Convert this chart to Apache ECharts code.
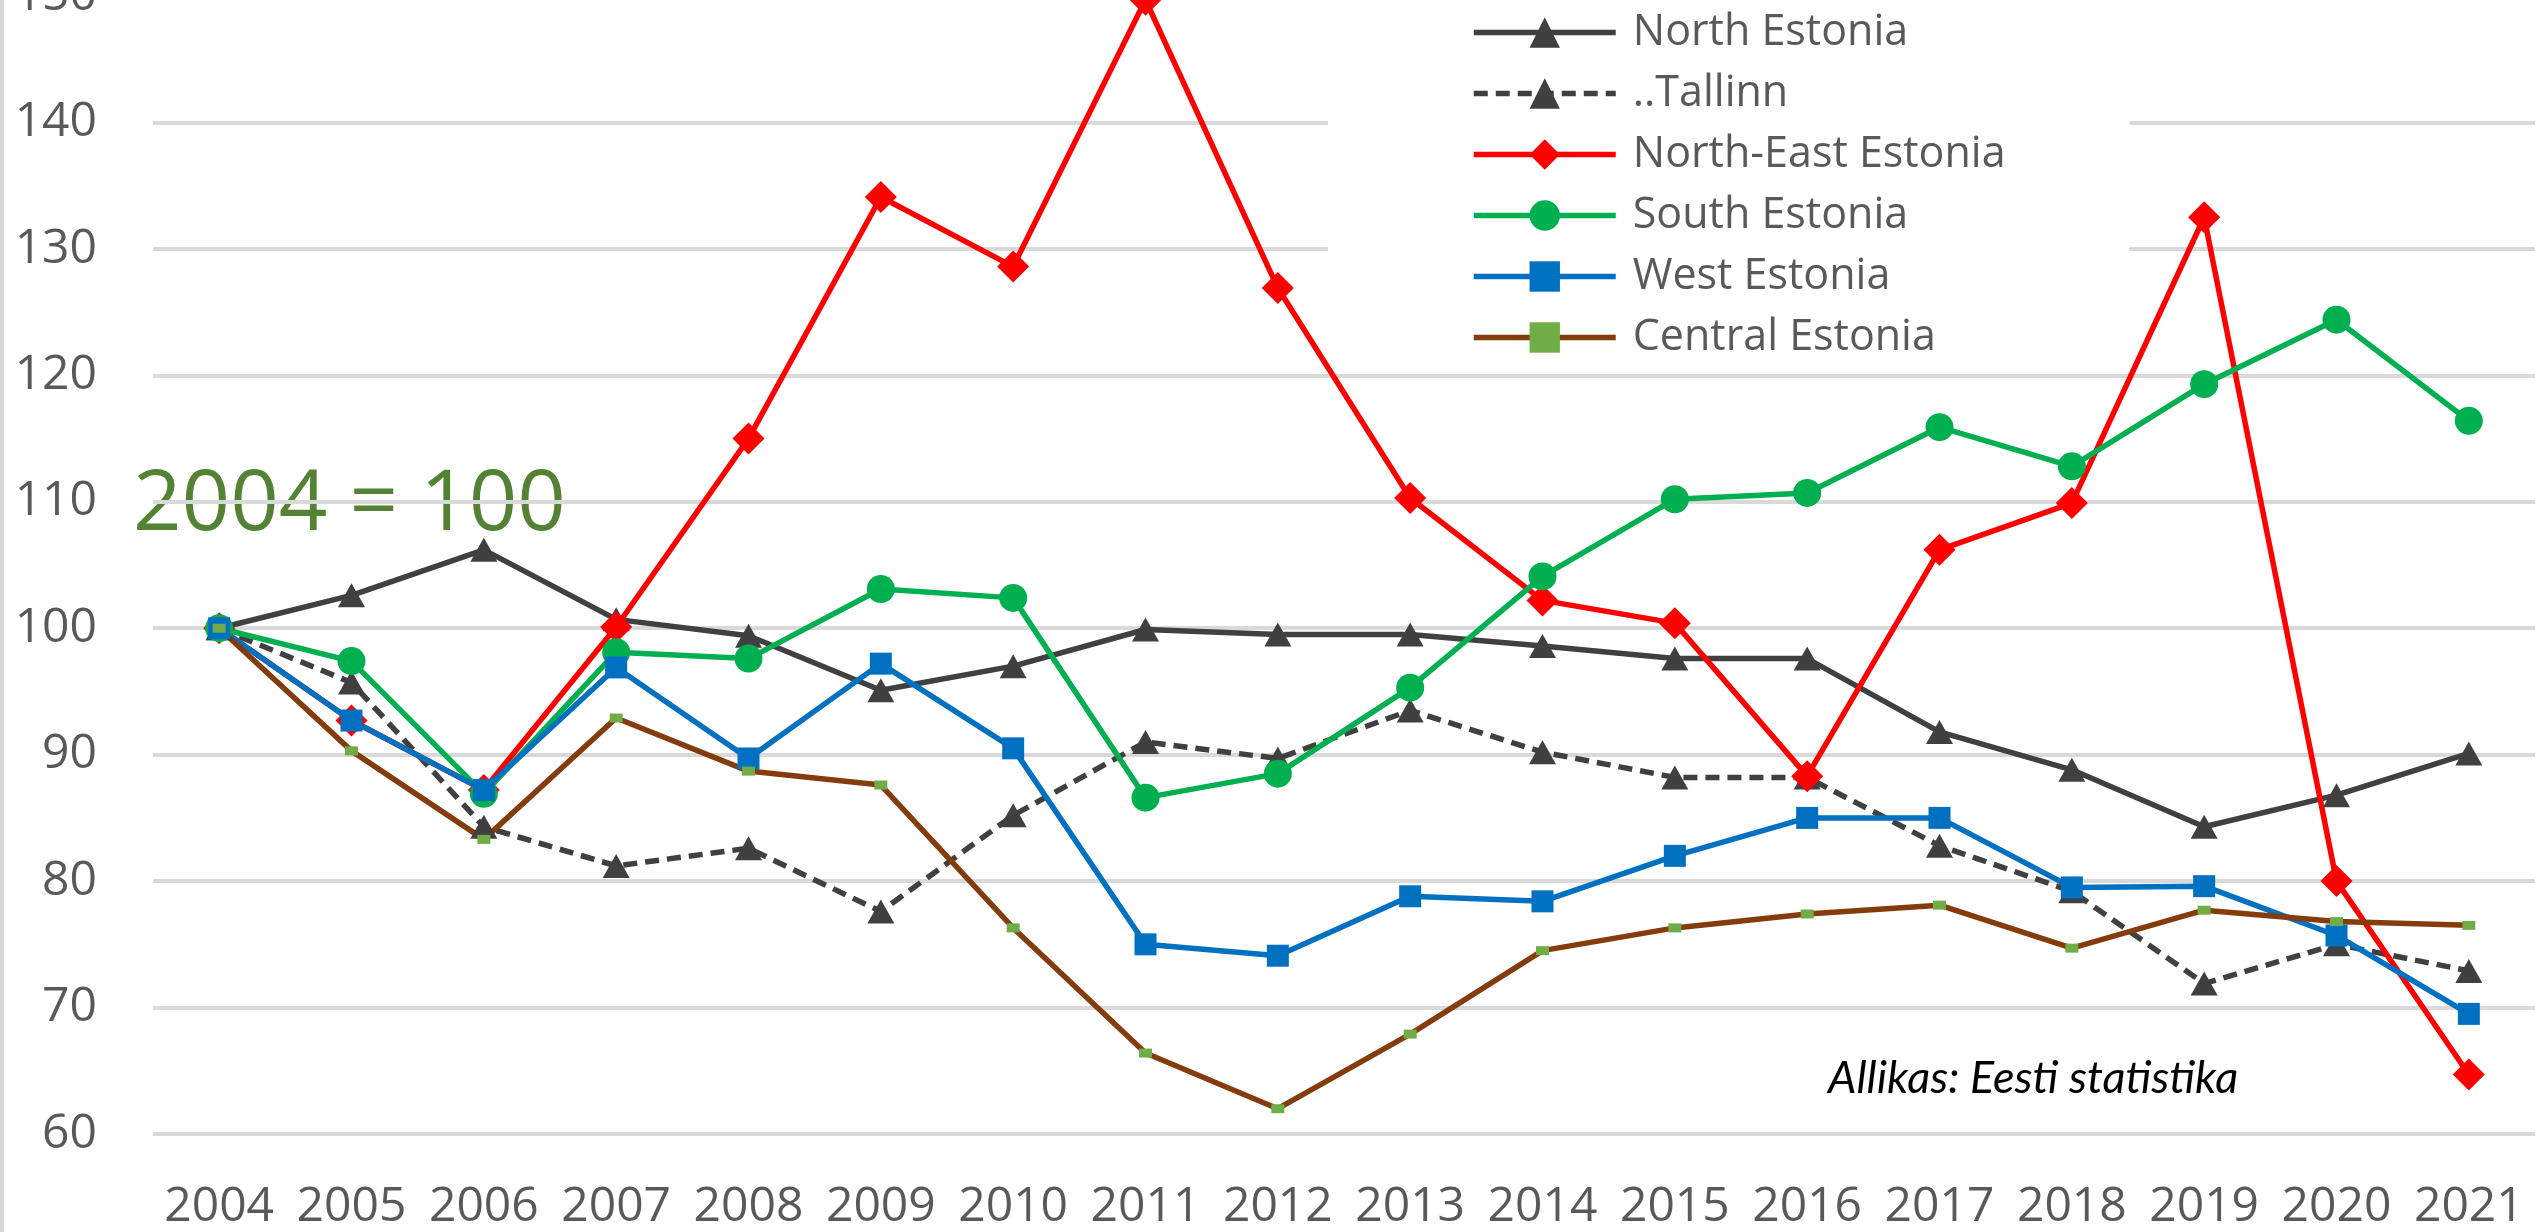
<!DOCTYPE html>
<html>
<head>
<meta charset="utf-8">
<script src="https://cdn.jsdelivr.net/npm/echarts@6/dist/echarts.min.js"></script>
<style>
  html, body { margin: 0; padding: 0; background: #fff; }
  #chart { width: 2539px; height: 1232px; }
</style>
</head>
<body>
<div id="chart"></div>
<script>
const years = ['2004', '2005', '2006', '2007', '2008', '2009', '2010', '2011', '2012',
  '2013', '2014', '2015', '2016', '2017', '2018', '2019', '2020', '2021'];

const northEstonia = [100, 102.6, 106.2, 100.7, 99.4, 95.1, 97.0, 99.9, 99.5,
  99.5, 98.6, 97.6, 97.6, 91.8, 88.8, 84.3, 86.8, 90.1];
const tallinn = [100, 95.7, 84.3, 81.2, 82.6, 77.6, 85.2, 91.0, 89.7,
  93.5, 90.2, 88.2, 88.2, 82.8, 79.2, 71.9, 75.0, 72.9];
const northEastEstonia = [100, 92.7, 87.2, 100.1, 115.0, 134.1, 128.6, 149.7, 126.9,
  110.3, 102.2, 100.4, 88.3, 106.2, 109.9, 132.5, 80.0, 64.7];
const southEstonia = [100, 97.4, 86.9, 98.1, 97.6, 103.1, 102.4, 86.6, 88.5,
  95.3, 104.1, 110.2, 110.7, 115.9, 112.8, 119.3, 124.4, 116.4];
const westEstonia = [100, 92.7, 87.2, 96.9, 89.7, 97.2, 90.5, 75.0, 74.1,
  78.8, 78.4, 82.0, 85.0, 85.0, 79.5, 79.6, 75.7, 69.5];
const centralEstonia = [100, 90.3, 83.3, 92.9, 88.7, 87.6, 76.3, 66.4, 62.0,
  67.9, 74.5, 76.3, 77.4, 78.1, 74.7, 77.7, 76.8, 76.5];

const yMin = 60;
const yMax = 150;
const yStep = 10;

const baseNote = '2004 = 100';
const sourceNote = 'Allikas: Eesti statistika';

const axisFont = '"Open Sans", "Noto Sans", sans-serif';

function lineSeries(name, data, color, symbol, symbolSize, extra) {
  return Object.assign({
    name: name,
    type: 'line',
    data: data,
    symbol: symbol,
    symbolSize: symbolSize,
    showSymbol: true,
    lineStyle: { color: color, width: 5.5 },
    itemStyle: { color: color },
    emphasis: { disabled: true }
  }, extra || {});
}

const chart = echarts.init(document.getElementById('chart'));

const option = {
  animation: false,
  backgroundColor: '#ffffff',
  grid: {
    left: 153,
    right: 4,
    top: -4,
    bottom: 98,
    containLabel: false,
    outerBoundsMode: 'none'
  },
  // white box behind the legend hides the top gridlines, like the original
  legend: {
    orient: 'vertical',
    left: 1328,
    top: 0,
    padding: [11, 124, 2, 143],
    backgroundColor: '#ffffff',
    itemWidth: 142,
    itemHeight: 38,
    itemGap: 18,
    lineStyle: { width: 5.5 },
    textStyle: {
      fontFamily: axisFont,
      fontSize: 43,
      lineHeight: 43,
      color: '#595959',
      padding: [0, 0, 0, 12]
    },
    data: ['North Estonia', '..Tallinn', 'North-East Estonia', 'South Estonia', 'West Estonia', 'Central Estonia']
  },
  xAxis: {
    type: 'category',
    data: years,
    boundaryGap: true,
    axisLine: { show: false },
    axisTick: { show: false },
    axisLabel: {
      fontFamily: axisFont,
      fontSize: 48,
      color: '#595959',
      margin: 49,
      interval: 0
    },
    splitLine: { show: false }
  },
  yAxis: {
    type: 'value',
    min: yMin,
    max: yMax,
    interval: yStep,
    axisLine: { show: false },
    axisTick: { show: false },
    axisLabel: {
      fontFamily: axisFont,
      fontSize: 48,
      color: '#595959',
      margin: 56
    },
    splitLine: { lineStyle: { color: '#d9d9d9', width: 4 } }
  },
  graphic: [
    {
      type: 'rect',
      shape: { x: 0, y: 0, width: 4, height: 1232 },
      style: { fill: '#d9d9d9' },
      silent: true
    },
    {
      type: 'text',
      x: 133,
      y: 506,
      style: {
        text: baseNote,
        font: '85px "Open Sans", sans-serif',
        fill: '#548235',
        verticalAlign: 'middle'
      },
      silent: true
    },
    {
      type: 'text',
      x: 1828,
      y: 1078,
      style: {
        text: sourceNote,
        font: 'italic 45px Lato, sans-serif',
        fill: '#000000',
        verticalAlign: 'middle'
      },
      silent: true
    }
  ],
  series: [
    lineSeries('North Estonia', northEstonia, '#404040', 'triangle', [27, 24]),
    lineSeries('..Tallinn', tallinn, '#404040', 'triangle', [27, 24], {
      lineStyle: { color: '#404040', width: 5.5, type: [14, 8] }
    }),
    lineSeries('North-East Estonia', northEastEstonia, '#ff0000', 'diamond', [32, 32]),
    lineSeries('South Estonia', southEstonia, '#00b050', 'circle', 28),
    lineSeries('West Estonia', westEstonia, '#0070c0', 'rect', 22),
    lineSeries('Central Estonia', centralEstonia, '#843c0c', 'rect', [13, 9], {
      itemStyle: { color: '#70ad47' }
    })
  ]
};

chart.setOption(option);
</script>
</body>
</html>
